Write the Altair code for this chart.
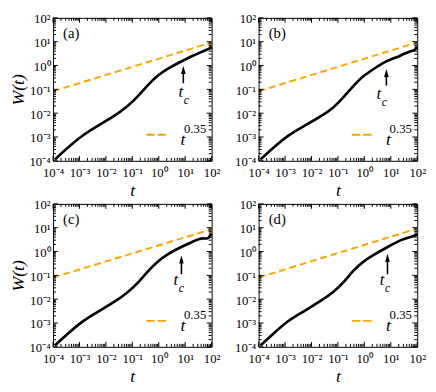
import altair as alt
import pandas as pd

SERIF = "Liberation Serif"

# ---- data ----
t_vals = [1.17e-4, 2.4e-4, 1.32e-3, 5.5e-3, 0.023, 0.071, 0.166, 0.39, 0.91,
          2.14, 6.8, 20.9, 32, 49, 65, 81, 100]
W_a = [1.13e-4, 2.4e-4, 1.24e-3, 3.16e-3, 8.0e-3, 0.0204, 0.052, 0.155, 0.39,
       0.73, 1.45, 2.7, 3.27, 4.05, 4.6, 5.05, 5.9]
W_b = [1.13e-4, 2.4e-4, 1.24e-3, 2.97e-3, 7.3e-3, 0.0175, 0.0474, 0.145, 0.37,
       0.69, 1.6, 2.39, 3.2, 3.75, 4.15, 4.45, 5.9]
W_c = [1.13e-4, 2.38e-4, 1.26e-3, 3.18e-3, 8.05e-3, 0.0204, 0.0484, 0.152, 0.384,
       0.78, 1.54, 2.69, 3.33, 3.66, 3.4, 3.9, 5.65]
W_d = [1.13e-4, 2.38e-4, 1.34e-3, 3.18e-3, 8.6e-3, 0.0204, 0.0514, 0.166, 0.384,
       0.71, 1.45, 2.86, 3.33, 3.9, 4.28, 4.69, 5.3]

curves = {"a": W_a, "b": W_b, "c": W_c, "d": W_d}

fit_t = [1e-4, 100]
fit_W = {"a": [0.083, 9.3], "b": [0.083, 9.3], "c": [0.081, 8.6], "d": [0.081, 9.2]}

arrow_t = {"a": 8.5, "b": 6.8, "c": 7.2, "d": 7.5}
arrow_lo = {"a": 0.18, "b": 0.145, "c": 0.111, "d": 0.111}
arrow_hi = {"a": 0.59, "b": 0.44, "c": 0.42, "d": 0.49}

tc_t = {"a": 6.8, "b": 3.5, "c": 4.4, "d": 4.7}
tc_W = {"a": 0.047, "b": 0.039, "c": 0.040, "d": 0.040}

letter_t, letter_W = 2.4e-4, 15
legend_seg_t = [0.34, 1.86]
legend_seg_W = 1.23e-3
legend_t_t, legend_t_W = 6.6, 4.5e-4
legend_exp_t, legend_exp_W = 9.0, 1.5e-3

decades = [1e-4, 1e-3, 1e-2, 1e-1, 1, 10, 100]
minor_ticks = [m * 10.0 ** k for k in range(-4, 2) for m in range(2, 10)]

W, H = 162, 146
DOM = [1e-4, 100]
LABEL_EXPR = ("['10\u207b\u2074','10\u207b\u00b3','10\u207b\u00b2','10\u207b\u00b9',"
              "'10\u2070','10\u00b9','10\u00b2'][round(log(datum.value)/LN10)+4]")
MAJ_LEN, MIN_LEN = 5, 3


def sc():
    return alt.Scale(type="log", domain=DOM, nice=False)


def make_axis(orient, title):
    kw = dict(orient=orient, values=decades, labelExpr=LABEL_EXPR, ticks=False,
              domain=False, grid=False, labelFont=SERIF, labelFontSize=13,
              labelColor="black", labelFlush=False, labelOverlap=False)
    if orient == "bottom":
        kw.update(labelPadding=6)
    else:
        kw.update(labelPadding=3, labelOffset=1)
    if title:
        kw.update(title=title, titleFont=SERIF, titleFontStyle="italic",
                  titleFontSize=18, titleFontWeight="normal", titleColor="black",
                  titlePadding=2)
    else:
        kw.update(title=None)
    return alt.Axis(**kw)


def X(f="t"):
    return alt.X(f"{f}:Q", scale=sc(), axis=None)


def Y(f="W"):
    return alt.Y(f"{f}:Q", scale=sc(), axis=None)


def tick_layers():
    layers = []
    for vals, ln in ((decades, MAJ_LEN), (minor_ticks, MIN_LEN)):
        d = pd.DataFrame({"v": vals})
        base = alt.Chart(d).mark_rule(color="black", strokeWidth=1)
        layers += [
            base.encode(x=X("v"), y=alt.value(H), y2=alt.value(H - ln)),
            base.encode(x=X("v"), y=alt.value(0), y2=alt.value(ln)),
            base.encode(y=Y("v"), x=alt.value(0), x2=alt.value(ln)),
            base.encode(y=Y("v"), x=alt.value(W), x2=alt.value(W - ln)),
        ]
    return layers


def panel(p, show_ytitle):
    cdf = pd.DataFrame({"t": t_vals, "W": curves[p]})
    fdf = pd.DataFrame({"t": fit_t, "W": fit_W[p]})
    ldf = pd.DataFrame({"t": legend_seg_t, "W": [legend_seg_W, legend_seg_W]})
    adf = pd.DataFrame({"t": [arrow_t[p]], "lo": [arrow_lo[p]], "hi": [arrow_hi[p]]})

    curve = alt.Chart(cdf).mark_line(color="black", strokeWidth=2.7,
                                     interpolate="basis").encode(
        x=alt.X("t:Q", scale=sc(), axis=make_axis("bottom", "t")),
        y=alt.Y("W:Q", scale=sc(),
                axis=make_axis("left", "W(t)" if show_ytitle else None)),
    )
    fit = alt.Chart(fdf).mark_line(color="#FFA500", strokeWidth=2,
                                   strokeDash=[7, 4]).encode(x=X(), y=Y())
    leg = alt.Chart(ldf).mark_line(color="#FFA500", strokeWidth=2,
                                   strokeDash=[8.5, 3]).encode(x=X(), y=Y())
    shaft = alt.Chart(adf).mark_rule(color="black", strokeWidth=1.6).encode(
        x=X(), y=Y("lo"), y2="hi:Q")
    head = alt.Chart(adf).mark_point(
        shape="M0,-1L0.45,0.6L-0.45,0.6Z", filled=True, color="black",
        opacity=1, size=110, strokeWidth=0).encode(x=X(), y=Y("hi"))

    def txt(tv, wv, s, **mk):
        d = pd.DataFrame({"t": [tv], "W": [wv], "s": [s]})
        return alt.Chart(d).mark_text(font=SERIF, color="black",
                                      baseline="alphabetic", **mk).encode(
            x=X(), y=Y(), text="s:N")

    letter = txt(letter_t, letter_W, f"({p})", fontSize=15, align="left")
    tc1 = txt(tc_t[p], tc_W[p], "t", fontSize=17, fontStyle="italic", align="center")
    tc2 = txt(tc_t[p], tc_W[p], "c", fontSize=12, fontStyle="italic",
              align="left", dx=3, dy=7)
    lt = txt(legend_t_t, legend_t_W, "t", fontSize=18, fontStyle="italic", align="left")
    le = txt(legend_exp_t, legend_exp_W, "0.35", fontSize=13, align="left")

    return alt.layer(curve, fit, leg, shaft, head, letter, tc1, tc2, lt, le,
                     *tick_layers()).resolve_axis(
        x="independent", y="independent").properties(width=W, height=H)


chart = alt.concat(
    panel("a", True), panel("b", False), panel("c", True), panel("d", False),
    columns=2, spacing={"row": 44, "column": 48}, bounds="flush",
).properties(padding={"left": 0, "top": 0, "right": 2, "bottom": 0}).configure_view(
    stroke="black", strokeWidth=1)

chart.save("out.html", embed_options={"renderer": "svg", "actions": False})
